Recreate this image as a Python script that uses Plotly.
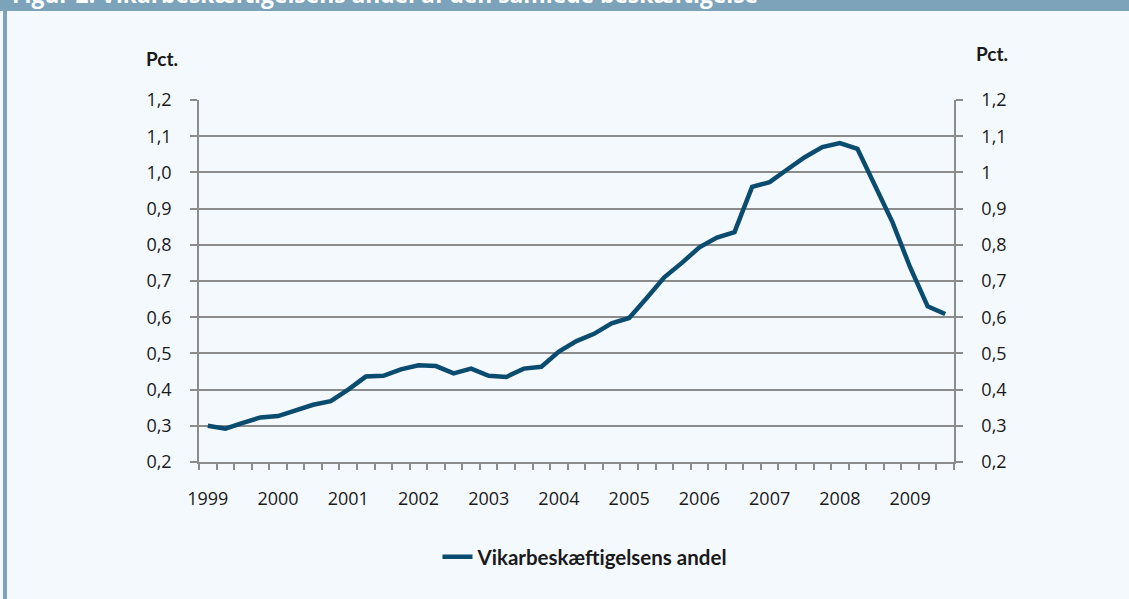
import plotly.graph_objects as go

years = list(range(1999, 2010))
quarters = [f"{y}K{q}" for y in years for q in range(1, 5)][:43]
values = [0.300, 0.292, 0.308, 0.323, 0.327, 0.344, 0.358, 0.368,
          0.400, 0.436, 0.438, 0.456, 0.467, 0.465, 0.445, 0.458,
          0.438, 0.435, 0.458, 0.463, 0.505, 0.534, 0.554, 0.583,
          0.598, 0.653, 0.710, 0.750, 0.793, 0.820, 0.835, 0.960,
          0.973, 1.008, 1.042, 1.070, 1.081, 1.065, 0.967, 0.862,
          0.738, 0.630, 0.609]
year_labels = [str(y) for y in years]
y_ticks = [0.2, 0.3, 0.4, 0.5, 0.6, 0.7, 0.8, 0.9, 1.0, 1.1, 1.2]
left_labels = ["0,2", "0,3", "0,4", "0,5", "0,6", "0,7", "0,8", "0,9", "1,0", "1,1", "1,2"]
right_labels = ["0,2", "0,3", "0,4", "0,5", "0,6", "0,7", "0,8", "0,9", "1", "1,1", "1,2"]
series_name = "Vikarbeskæftigelsens andel"
title_text = "Figur 2. Vikarbeskæftigelsens andel af den samlede beskæftigelse"

xs = list(range(len(values)))
year_pos = [i for i, q in enumerate(quarters) if q.endswith("K1")]

BG = "#F4F9FE"
FRAME = "#7DA3BB"
LINE = "#0A4B70"
GRID = "#8C8C8C"
FONT = "Open Sans, Noto Sans, sans-serif"
BOLD = "Lato, Open Sans, sans-serif"

fig = go.Figure()
fig.add_trace(go.Scatter(x=xs, y=values, mode="lines", name=series_name,
                         line=dict(color=LINE, width=4.5), yaxis="y"))
fig.add_trace(go.Scatter(x=xs, y=values, mode="lines", showlegend=False,
                         line=dict(color="rgba(0,0,0,0)", width=0), yaxis="y2",
                         hoverinfo="skip"))

L, R, T, B = 199, 175, 100, 137
W, H = 1129, 599
pw = W - L - R
ph = H - T - B

def px_x(p):
    return (p - L) / pw

def px_y(p):
    return (H - B - p) / ph

fig.update_layout(
    width=W, height=H,
    margin=dict(l=L, r=R, t=T, b=B, pad=0),
    paper_bgcolor=BG, plot_bgcolor=BG,
    font=dict(family=FONT, size=18, color="#1a1a1a"),
    showlegend=True,
    legend=dict(orientation="h", x=px_x(585), xanchor="center", y=px_y(557), yanchor="middle",
                bgcolor="rgba(0,0,0,0)",
                font=dict(family=BOLD, size=20.5, color="#1a1a1a", weight="bold")),
    xaxis=dict(
        range=[-0.5, len(values) - 0.5],
        tickmode="array", tickvals=year_pos, ticktext=year_labels,
        ticks="", showgrid=False, zeroline=False,
        showline=True, linecolor=GRID, linewidth=1.5,
        ticklabelstandoff=20,
        tickfont=dict(size=18),
        minor=dict(ticks="outside", ticklen=6, tickwidth=1.5, tickcolor=GRID,
                   tick0=-0.5, dtick=1, showgrid=False),
    ),
    yaxis=dict(
        range=[0.2, 1.2],
        tickmode="array", tickvals=y_ticks, ticktext=left_labels,
        ticks="outside", ticklen=7, tickwidth=1.5, tickcolor=GRID,
        showgrid=True, gridcolor=GRID, gridwidth=1.5,
        zeroline=False, showline=True, linecolor=GRID, linewidth=1.5,
        ticklabelstandoff=15, tickfont=dict(size=18),
    ),
    yaxis2=dict(
        range=[0.2, 1.2], overlaying="y", side="right",
        tickmode="array", tickvals=y_ticks, ticktext=right_labels,
        ticks="outside", ticklen=7, tickwidth=1.5, tickcolor=GRID,
        showgrid=False, zeroline=False, showline=True, linecolor=GRID, linewidth=1.5,
        ticklabelstandoff=15, tickfont=dict(size=18),
    ),
    shapes=[
        dict(type="rect", xref="paper", yref="paper", x0=px_x(-5), x1=px_x(W + 5),
             y0=px_y(11), y1=px_y(-5), fillcolor=FRAME, line=dict(width=0), layer="below"),
        dict(type="rect", xref="paper", yref="paper", x0=px_x(3), x1=px_x(7),
             y0=px_y(H + 5), y1=px_y(11), fillcolor=FRAME, line=dict(width=0), layer="below"),
    ],
    annotations=[
        dict(text="<b>Pct.</b>", xref="paper", yref="paper", x=px_x(162), y=px_y(59),
             xanchor="center", yanchor="middle", showarrow=False,
             font=dict(family=BOLD, size=19, color="#1a1a1a")),
        dict(text="<b>Pct.</b>", xref="paper", yref="paper", x=px_x(992), y=px_y(53),
             xanchor="center", yanchor="middle", showarrow=False,
             font=dict(family=BOLD, size=19, color="#1a1a1a")),
        dict(text="<b>" + title_text + "</b>", xref="paper", yref="paper", x=px_x(10), y=px_y(12),
             xanchor="left", yanchor="bottom", showarrow=False,
             font=dict(family="Open Sans, sans-serif", size=22.8, color="#FFFFFF")),
    ],
)

fig.write_html(
    "out.html",
    config={"displayModeBar": False},
    post_script="document.body.style.margin='0';document.body.style.overflow='hidden';",
)
